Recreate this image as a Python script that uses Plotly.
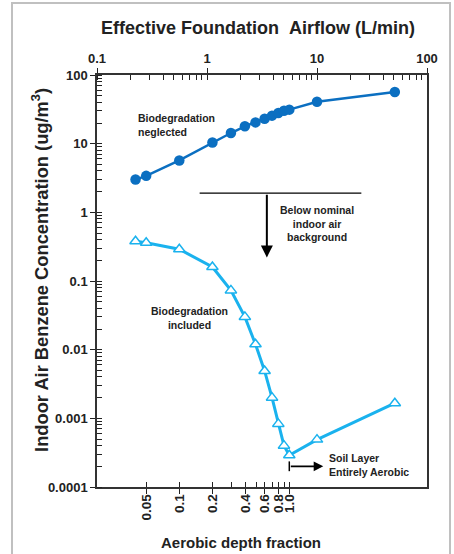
import numpy as np
import plotly.graph_objects as go

# ---------------- data ----------------
airflow = [0.224, 0.28, 0.56, 1.12, 1.65, 2.21, 2.76, 3.34, 3.90, 4.45, 5.01, 5.6, 10.0, 51.0]
conc_neglected = [3.0, 3.4, 5.7, 10.4, 14.3, 17.9, 20.4, 23.1, 25.6, 28.0, 30.2, 31.3, 40.8, 56.6]
conc_included = [0.38, 0.36, 0.29, 0.16, 0.073, 0.030, 0.012, 0.0049, 0.0020,
                 0.00083, 0.00040, 0.00029, 0.00049, 0.00166]

airflow_at_full_aerobic = 5.6   # L/min corresponding to aerobic depth fraction 1.0
background_conc = 1.9           # nominal indoor air background (ug/m3)

top_tickvals = [0.1, 1, 10, 100]
top_ticktext = ["0.1", "1", "10", "100"]
frac_tickvals = [0.05, 0.1, 0.2, 0.3, 0.4, 0.5, 0.6, 0.7, 0.8, 0.9, 1.0]
frac_ticktext = ["0.05", "0.1", "0.2", "", "0.4", "", "0.6", "", "0.8", "", "1.0"]
y_tickvals = [1e-4, 1e-3, 1e-2, 1e-1, 1, 10, 100]
y_ticktext = ["0.0001", "0.001", "0.01", "0.1", "1", "10", "100"]

# ---------------- styling ----------------
FONT = "Liberation Sans, Arial, sans-serif"
DARK = "#222222"
BLUE = "#0b6fc1"
CYAN = "#1ab2ee"

def log_minor(lo_exp, hi_exp):
    vals = []
    for e in range(lo_exp, hi_exp):
        for m in range(1, 10):
            vals.append(m * 10.0 ** e)
    vals.append(10.0 ** hi_exp)
    return vals

tickfont = dict(family=FONT, size=13, color=DARK, weight="bold")

fig = go.Figure()
# empty trace anchoring the bottom (aerobic depth fraction) axis
fig.add_trace(go.Scatter(x=[], y=[], xaxis="x", yaxis="y", showlegend=False, hoverinfo="skip"))
fig.add_trace(go.Scatter(
    x=airflow, y=conc_neglected, xaxis="x2", yaxis="y", mode="lines+markers",
    line=dict(color=BLUE, width=2.5),
    marker=dict(symbol="circle", size=10.5, color=BLUE),
    showlegend=False, name="Biodegradation neglected"))
fig.add_trace(go.Scatter(
    x=airflow, y=conc_included, xaxis="x2", yaxis="y", mode="lines+markers",
    line=dict(color=CYAN, width=3),
    marker=dict(symbol="triangle-up", size=10, color="white", line=dict(color=CYAN, width=1.5)),
    showlegend=False, name="Biodegradation included"))

axline = dict(showline=True, linecolor="#333333", linewidth=1.5, showgrid=False, zeroline=False)

fig.update_layout(
    width=454, height=554,
    margin=dict(l=97, r=27, t=75, b=67),
    paper_bgcolor="white", plot_bgcolor="white",
    font=dict(family=FONT, color=DARK),
    xaxis=dict(
        type="log",
        range=[np.log10(0.1 / airflow_at_full_aerobic), np.log10(100 / airflow_at_full_aerobic)],
        tickmode="array", tickvals=frac_tickvals, ticktext=frac_ticktext, tickangle=-90,
        ticks="outside", ticklen=5, tickwidth=1.2, tickcolor=DARK,
        tickfont=dict(family=FONT, size=13.5, color=DARK, weight="bold"),
        ticklabelstandoff=-5,
        minor=dict(tickmode="array", tickvals=frac_tickvals, ticks="inside", ticklen=5,
                   tickwidth=1.2, tickcolor=DARK, showgrid=False),
        mirror=True, **axline),
    xaxis2=dict(
        type="log", range=[-1, 2], overlaying="x", side="top", anchor="y",
        tickmode="array", tickvals=top_tickvals, ticktext=top_ticktext,
        ticks="outside", ticklen=5, tickwidth=1.2, tickcolor=DARK, tickfont=tickfont,
        minor=dict(tickmode="array", tickvals=log_minor(-1, 2), ticks="inside", ticklen=5,
                   tickwidth=1.2, tickcolor=DARK, showgrid=False),
        **axline),
    yaxis=dict(
        type="log", range=[-4, 2],
        tickmode="array", tickvals=y_tickvals, ticktext=y_ticktext,
        ticks="outside", ticklen=5, tickwidth=1.2, tickcolor=DARK, tickfont=tickfont,
        minor=dict(tickmode="array", tickvals=log_minor(-4, 2), ticks="inside", ticklen=5,
                   tickwidth=1.2, tickcolor=DARK, showgrid=False),
        mirror=True, **axline),
)

annfont = dict(family=FONT, size=10.5, color=DARK, weight="bold")
L = np.log10
fig.add_annotation(x=L(0.224), y=L(18.4), xref="x2", yref="y", text="Biodegradation<br>neglected",
                   showarrow=False, xanchor="left", yanchor="middle", align="left", font=annfont)
fig.add_annotation(x=L(10.0), y=L(0.68), xref="x2", yref="y", text="Below nominal<br>indoor air<br>background",
                   showarrow=False, xanchor="center", yanchor="middle", align="center", font=annfont)
fig.add_annotation(x=L(0.69), y=L(0.0286), xref="x2", yref="y", text="Biodegradation<br>included",
                   showarrow=False, xanchor="center", yanchor="middle", align="center", font=annfont)
fig.add_annotation(x=L(12.2), y=L(0.000207), xref="x2", yref="y", text="Soil Layer<br>Entirely Aerobic",
                   showarrow=False, xanchor="left", yanchor="middle", align="left", font=annfont)
# top axis title
fig.add_annotation(x=0.489, y=1.114, xref="paper", yref="paper",
                   text="Effective Foundation\u00a0\u00a0Airflow (L/min)",
                   showarrow=False, xanchor="center", yanchor="middle",
                   font=dict(family=FONT, size=18, color=DARK, weight="bold"))
# y axis title
fig.add_annotation(x=-0.1727, y=0.527, xref="paper", yref="paper",
                   text="Indoor Air Benzene Concentration (ug/m<sup>3</sup>)", textangle=-90,
                   showarrow=False, xanchor="center", yanchor="middle",
                   font=dict(family=FONT, size=18.3, color=DARK, weight="bold"))
# bottom axis title
fig.add_annotation(x=0.436, y=-0.135, xref="paper", yref="paper", text="Aerobic depth fraction",
                   showarrow=False, xanchor="center", yanchor="middle",
                   font=dict(family=FONT, size=15, color=DARK, weight="bold"))

# background line and arrows
fig.add_shape(type="line", xref="x2", yref="y", x0=0.857, x1=25.3, y0=background_conc, y1=background_conc,
              line=dict(color="black", width=1.2))
fig.add_annotation(x=L(3.5), y=L(0.22), ax=L(3.5), ay=L(background_conc), xref="x2", yref="y",
                   axref="x2", ayref="y", text="", showarrow=True, arrowhead=2, arrowsize=1.2,
                   arrowwidth=2, arrowcolor="black")
fig.add_annotation(x=L(11.4), y=L(0.0002), ax=L(airflow_at_full_aerobic), ay=L(0.0002), xref="x2", yref="y",
                   axref="x2", ayref="y", text="", showarrow=True, arrowhead=2, arrowsize=1.2,
                   arrowwidth=1.6, arrowcolor="black")
fig.add_shape(type="line", xref="x2", yref="y", x0=airflow_at_full_aerobic, x1=airflow_at_full_aerobic,
              y0=0.00017, y1=0.000236, line=dict(color="black", width=1.5))

# outer frame
fig.add_shape(type="rect", xref="paper", yref="paper", x0=-0.2576, x1=1.0697, y0=-0.25, y1=1.1746,
              line=dict(color="#c0c0c0", width=2), fillcolor="rgba(0,0,0,0)", layer="below")

fig.write_html("out.html")
